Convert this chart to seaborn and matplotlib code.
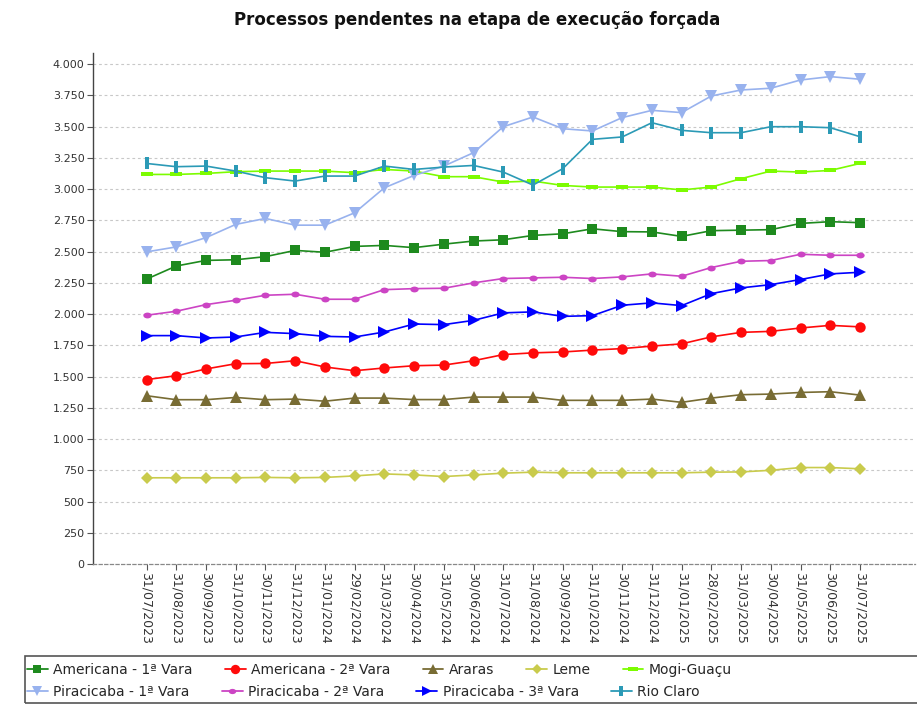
import matplotlib
matplotlib.use('Agg')
import matplotlib.pyplot as plt
import numpy as np
import pandas as pd
import seaborn as sns
from matplotlib.patches import Rectangle
from matplotlib.path import Path
from matplotlib.lines import Line2D

sns.set_theme(style='white')
plt.rcParams['font.family'] = ['DejaVu Sans']

dates = ['31/07/2023', '31/08/2023', '30/09/2023', '31/10/2023', '30/11/2023',
         '31/12/2023', '31/01/2024', '29/02/2024', '31/03/2024', '30/04/2024',
         '31/05/2024', '30/06/2024', '31/07/2024', '31/08/2024', '30/09/2024',
         '31/10/2024', '30/11/2024', '31/12/2024', '31/01/2025', '28/02/2025',
         '31/03/2025', '30/04/2025', '31/05/2025', '30/06/2025', '31/07/2025']

americana_1 = [2280, 2385, 2430, 2435, 2460, 2510, 2495, 2542, 2550, 2532, 2560, 2585,
               2595, 2630, 2643, 2683, 2660, 2658, 2622, 2668, 2672, 2676, 2726, 2740, 2732]
americana_2 = [1476, 1507, 1561, 1603, 1605, 1627, 1577, 1547, 1569, 1587, 1592, 1627,
               1676, 1690, 1697, 1712, 1724, 1744, 1762, 1818, 1854, 1862, 1889, 1910, 1898]
araras = [1347, 1315, 1315, 1333, 1315, 1320, 1303, 1328, 1328, 1316, 1316, 1336,
          1336, 1336, 1310, 1310, 1310, 1320, 1294, 1328, 1355, 1360, 1373, 1379, 1352]
leme = [690, 690, 690, 690, 693, 690, 693, 705, 721, 713, 700, 713,
        727, 735, 730, 730, 730, 730, 730, 735, 737, 750, 772, 772, 762]
mogi_guacu = [3118, 3118, 3126, 3140, 3145, 3145, 3145, 3132, 3158, 3145, 3100, 3100,
              3057, 3065, 3030, 3017, 3017, 3017, 2994, 3017, 3084, 3145, 3137, 3150, 3206]
piracicaba_1 = [2498, 2538, 2612, 2718, 2766, 2712, 2712, 2811, 3011, 3110, 3185, 3292,
                3500, 3578, 3484, 3466, 3573, 3631, 3613, 3746, 3794, 3808, 3874, 3901, 3880]
piracicaba_2 = [1991, 2023, 2076, 2111, 2151, 2159, 2119, 2119, 2196, 2204, 2207, 2250,
                2285, 2290, 2295, 2285, 2298, 2322, 2303, 2373, 2423, 2429, 2479, 2471, 2471]
piracicaba_3 = [1828, 1828, 1809, 1817, 1854, 1844, 1822, 1817, 1857, 1921, 1916, 1950,
                2010, 2018, 1982, 1988, 2071, 2090, 2068, 2164, 2210, 2236, 2277, 2322, 2335]
rio_claro = [3206, 3180, 3185, 3145, 3092, 3065, 3105, 3105, 3185, 3158, 3177, 3190,
             3137, 3033, 3164, 3399, 3418, 3532, 3471, 3452, 3452, 3500, 3500, 3492, 3420]

series_names = ['Americana - 1ª Vara', 'Americana - 2ª Vara', 'Araras', 'Leme',
                'Mogi-Guaçu', 'Piracicaba - 1ª Vara', 'Piracicaba - 2ª Vara',
                'Piracicaba - 3ª Vara', 'Rio Claro']
series_values = [americana_1, americana_2, araras, leme, mogi_guacu,
                 piracicaba_1, piracicaba_2, piracicaba_3, rio_claro]

tall_rect = Path([(-0.4, -1), (0.4, -1), (0.4, 1), (-0.4, 1), (-0.4, -1)],
                 [Path.MOVETO, Path.LINETO, Path.LINETO, Path.LINETO, Path.CLOSEPOLY])
wide_rect = Path([(-1, -0.4), (1, -0.4), (1, 0.4), (-1, 0.4), (-1, -0.4)],
                 [Path.MOVETO, Path.LINETO, Path.LINETO, Path.LINETO, Path.CLOSEPOLY])
flat_ellipse = Path.unit_circle().transformed(matplotlib.transforms.Affine2D().scale(1.0, 0.7))

styles = {
    'Americana - 1ª Vara': ('#1e8a1e', 's', 7),
    'Americana - 2ª Vara': ('#ff0a0a', 'o', 7.5),
    'Araras': ('#786c34', '^', 8),
    'Leme': ('#c9cb4c', 'D', 6),
    'Mogi-Guaçu': ('#7cfc00', wide_rect, 8),
    'Piracicaba - 1ª Vara': ('#98b2ee', 'v', 8.5),
    'Piracicaba - 2ª Vara': ('#cc44c4', flat_ellipse, 6),
    'Piracicaba - 3ª Vara': ('#0000ff', '>', 8.5),
    'Rio Claro': ('#2b9ab6', tall_rect, 8),
}

df = pd.DataFrame({
    'x': np.tile(np.arange(len(dates)), len(series_names)),
    'valor': np.concatenate(series_values),
    'serie': np.repeat(series_names, len(dates)),
})

fig = plt.figure(figsize=(9.17, 7.04), dpi=100)
ax = fig.add_axes([93 / 917, 1 - 564 / 704, (915 - 93) / 917, (564 - 53) / 704])

for name in series_names:
    color, marker, ms = styles[name]
    sns.lineplot(data=df[df['serie'] == name], x='x', y='valor', ax=ax,
                 color=color, marker=marker, markersize=ms, markeredgewidth=0,
                 linewidth=1.2, label=name, legend=False, zorder=3)

ax.set_xlim(-1.8, len(dates) - 1 + 1.85)
ax.set_ylim(0, 4090)
yt = np.arange(0, 4001, 250)
ax.set_yticks(yt)
ax.set_yticklabels([f'{v:,.0f}'.replace(',', '.') for v in yt], fontsize=8, color='#333333')
ax.set_xticks(np.arange(len(dates)))
ax.set_xticklabels(dates, rotation=-90, fontsize=9, color='#333333', ha='center', va='top')
ax.tick_params(axis='both', length=4, width=0.8, color='#555555', pad=2,
               left=True, bottom=True)
ax.set_xlabel('')
ax.set_ylabel('')

for v in yt[1:]:
    ax.axhline(v, color='#c8c8c8', linewidth=0.8, linestyle=(0, (2.5, 2.5)), zorder=1)

for side in ['top', 'right']:
    ax.spines[side].set_visible(False)
ax.spines['left'].set_color('#444444')
ax.spines['left'].set_linewidth(1.0)
ax.spines['bottom'].set_color('#888888')
ax.spines['bottom'].set_linewidth(0.9)
ax.spines['bottom'].set_linestyle((0, (2.5, 2)))

fig.text(477 / 917, 1 - 20 / 704, 'Processos pendentes na etapa de execução forçada',
         ha='center', va='center', fontsize=12, fontweight='bold', color='#111111')

handles = {}
for name in series_names:
    color, marker, ms = styles[name]
    handles[name] = Line2D([], [], color=color, marker=marker, markersize=ms * 0.9,
                           markeredgewidth=0, linewidth=1.3)

row1 = series_names[:5]
row2 = series_names[5:]
fig.legend([handles[n] for n in row1], row1, loc='center left',
           bbox_to_anchor=(27 / 917, 1 - 670 / 704), ncol=5, frameon=False,
           fontsize=10, handlelength=1.5, handletextpad=0.4, columnspacing=2.3,
           borderpad=0, borderaxespad=0)
fig.legend([handles[n] for n in row2], row2, loc='center left',
           bbox_to_anchor=(27 / 917, 1 - 692 / 704), ncol=4, frameon=False,
           fontsize=10, handlelength=1.5, handletextpad=0.4, columnspacing=2.3,
           borderpad=0, borderaxespad=0)
fig.add_artist(Rectangle((25 / 917, 0.002), 1.0, (704 - 657) / 704,
                         transform=fig.transFigure, fill=False,
                         edgecolor='#555555', linewidth=1.2))

fig.savefig('out.png', dpi=100)
